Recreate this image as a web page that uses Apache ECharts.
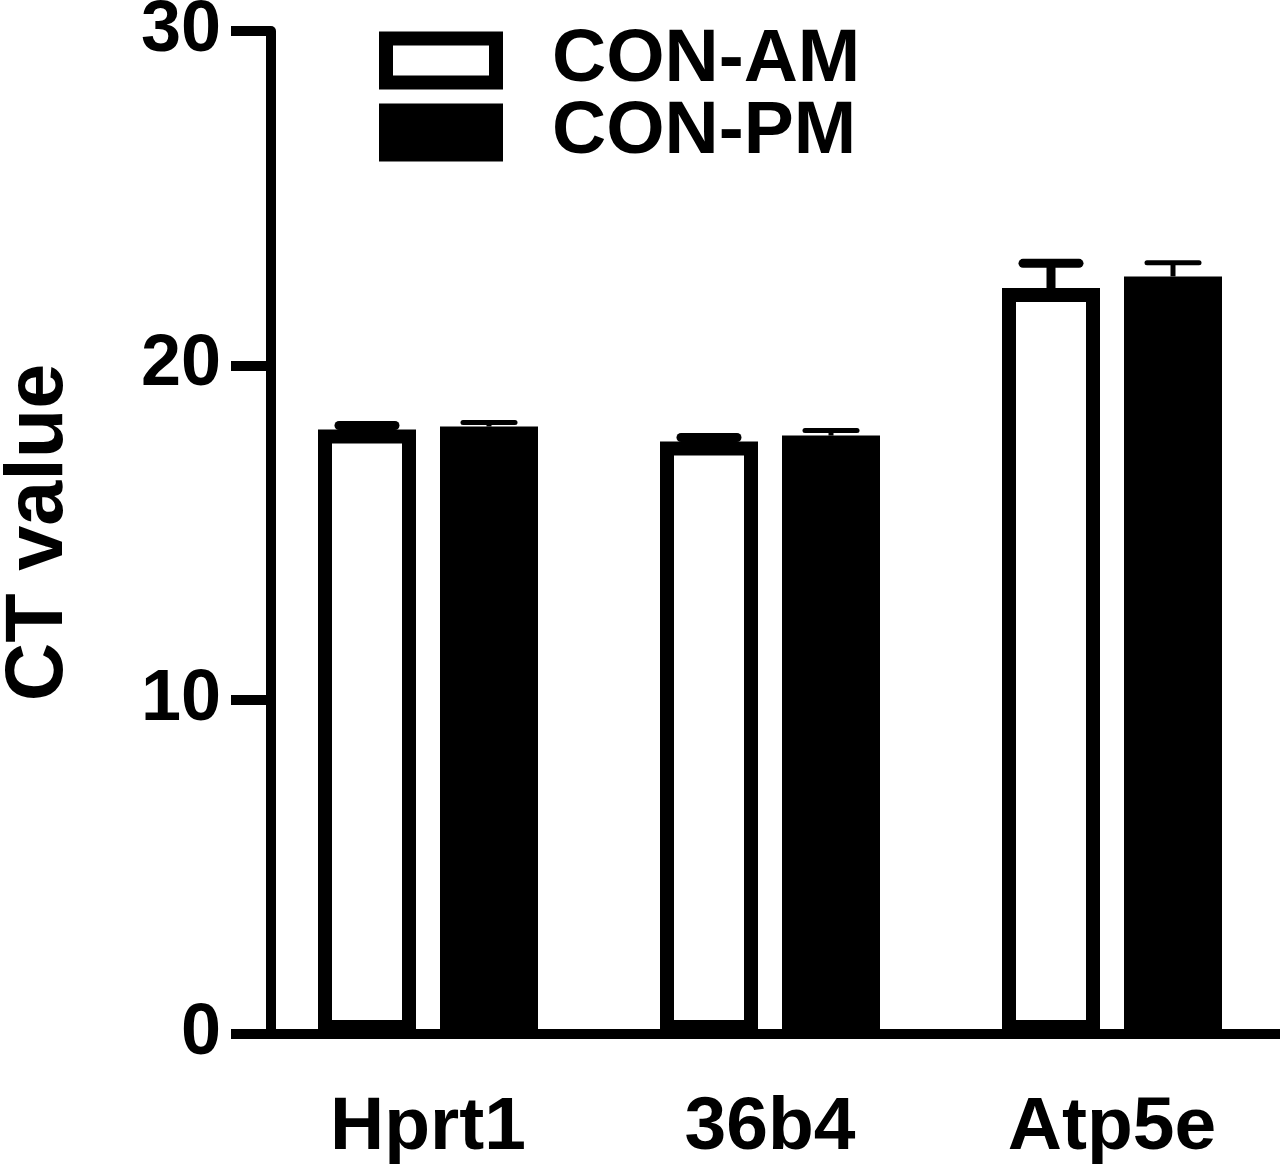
<!DOCTYPE html>
<html><head><meta charset="utf-8">
<script src="https://cdn.jsdelivr.net/npm/echarts@6/dist/echarts.min.js"></script>
<style>html,body{margin:0;padding:0;background:#fff}#c{width:1280px;height:1173px}</style>
</head><body><div id="c"></div>
<script>
const categories = ['Hprt1', '36b4', 'Atp5e'];
const seriesNames = ['CON-AM', 'CON-PM'];
const amMean = [18.08, 17.72, 22.31];
const amErr  = [0.12, 0.12, 0.74];
const pmMean = [18.17, 17.90, 22.66];
const pmErr  = [0.12, 0.15, 0.41];
const yTicks = [0, 10, 20, 30];

const FONT = '"Liberation Sans", Arial, sans-serif';
const BAR_W = 98, BORDER = 14, GAP_PX = 24;
const halfOffset = (BAR_W + GAP_PX) / 2;

function errSeries(mean, err, sign, capW, lw) {
  return {
    type: 'custom', silent: true, z: 5,
    data: mean.map((m, i) => [i, m, m + err[i]]),
    renderItem: function (params, api) {
      const lo = api.coord([api.value(0), api.value(1)]);
      const hi = api.coord([api.value(0), api.value(2)]);
      const x = lo[0] + sign * halfOffset;
      return { type: 'group', children: [
        { type: 'line', shape: { x1: x, y1: lo[1], x2: x, y2: hi[1] }, style: { stroke: '#000', lineWidth: lw } },
        { type: 'line', shape: { x1: x - capW / 2, y1: hi[1], x2: x + capW / 2, y2: hi[1] }, style: { stroke: '#000', lineWidth: lw, lineCap: 'round' } }
      ]};
    }
  };
}

const chart = echarts.init(document.getElementById('c'));
chart.setOption({
  animation: false,
  backgroundColor: '#fff',
  grid: { left: 257, top: 31, width: 1026, bottom: 139, outerBoundsMode: 'none', containLabel: false },
  legend: {
    left: 379, top: 23, padding: 0, orient: 'vertical', itemWidth: 110, itemHeight: 44, itemGap: -3,
    icon: 'rect',
    itemStyle: { borderWidth: BORDER, borderColor: '#000' },
    textStyle: { fontFamily: FONT, fontWeight: 'bold', fontSize: 75, color: '#000', padding: [0, 0, 0, 51] },
    data: seriesNames
  },
  xAxis: {
    type: 'category', data: categories,
    axisLine: { lineStyle: { color: '#000', width: 10 } },
    axisTick: { alignWithLabel: true, length: 42, lineStyle: { color: '#000', width: 10 } },
    axisLabel: { color: '#000', fontFamily: FONT, fontWeight: 'bold', fontSize: 75, margin: 57 }
  },
  yAxis: {
    type: 'value', min: yTicks[0], max: yTicks[yTicks.length - 1], interval: 10, offset: -14,
    name: 'CT value', nameLocation: 'middle', nameRotate: 90, nameGap: 191,
    nameTextStyle: { color: '#000', fontFamily: FONT, fontWeight: 'bold', fontSize: 81 },
    splitLine: { show: false },
    axisLine: { show: true, lineStyle: { color: '#000', width: 10 } },
    axisTick: { show: true, length: 40, lineStyle: { color: '#000', width: 10 } },
    axisLabel: { color: '#000', fontFamily: FONT, fontWeight: 'bold', fontSize: 72, margin: 50 }
  },
  series: [
    { name: seriesNames[0], type: 'bar', data: amMean, barWidth: BAR_W, barGap: (GAP_PX / BAR_W * 100) + '%',
      itemStyle: { color: '#fff', borderColor: '#000', borderWidth: BORDER } },
    { name: seriesNames[1], type: 'bar', data: pmMean, barWidth: BAR_W,
      itemStyle: { color: '#000', borderColor: '#000', borderWidth: BORDER } },
    errSeries(amMean, amErr, -1, 56, 9),
    errSeries(pmMean, pmErr, 1, 52, 5)
  ]
});
</script></body></html>
